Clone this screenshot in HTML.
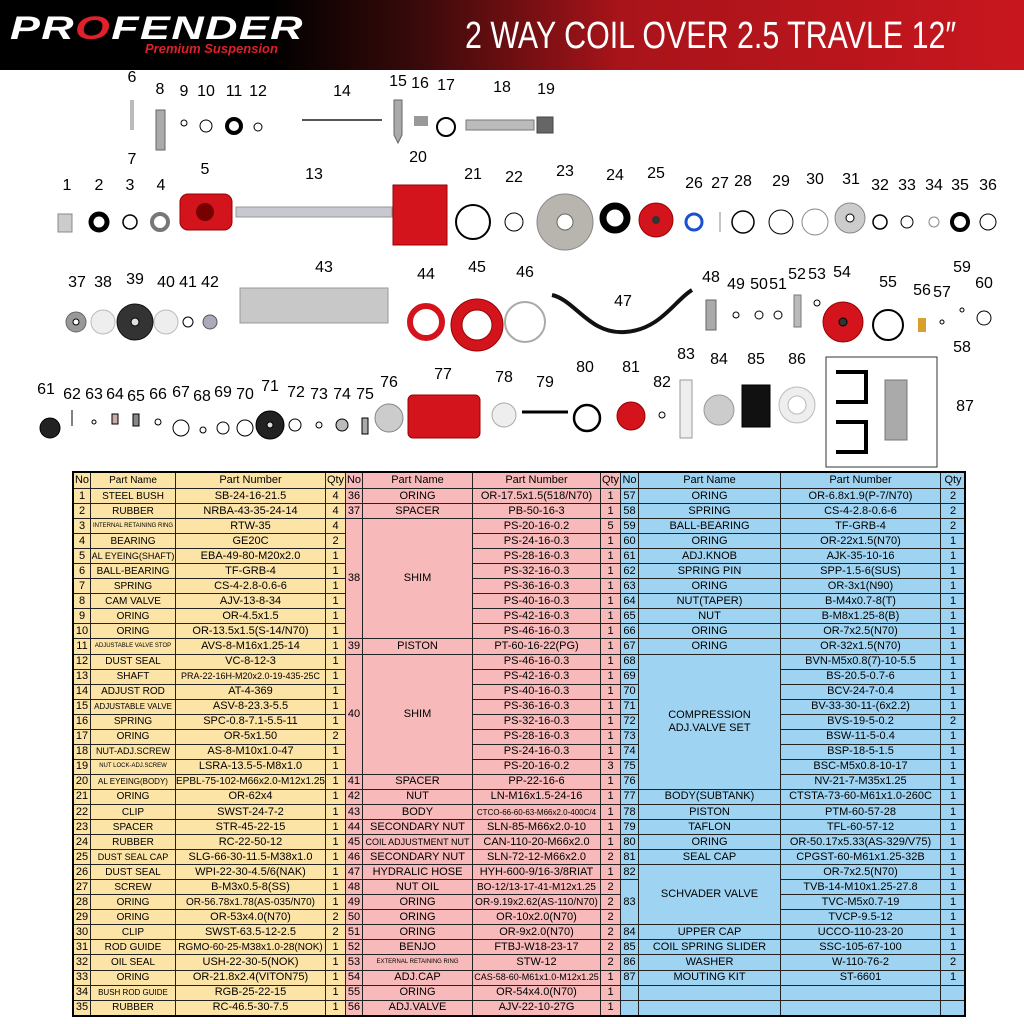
<!DOCTYPE html>
<html><head><meta charset="utf-8"><style>
*{margin:0;padding:0;box-sizing:border-box}
body{width:1024px;height:1024px;background:#fff;position:relative;overflow:hidden;font-family:"Liberation Sans",sans-serif}
#hdr{position:absolute;left:0;top:0;width:1024px;height:70px;background:linear-gradient(90deg,#000 0,#000 270px,#3a0a0a 420px,#a8141a 620px,#c8161e 1024px)}
#hdr .logo{position:absolute;left:10px;top:10px;color:#fff;font-size:32px;font-weight:bold;font-style:italic;letter-spacing:1px;transform:scaleX(1.4);transform-origin:left}
#hdr .sub{position:absolute;left:145px;top:41px;color:#e0202a;font-size:13px;font-weight:bold;font-style:italic}
#hdr .title{position:absolute;left:465px;top:15px;color:#fff;font-size:38px;white-space:nowrap;transform:scaleX(0.8);transform-origin:left}
.lbl{position:absolute;font-size:16px;color:#000;transform:translate(-50%,-50%);white-space:nowrap;transform-origin:center}
table{position:absolute;border-collapse:collapse;table-layout:fixed;font-size:11px;top:472px}
td{border:1px solid #222;height:15.06px;line-height:13px;text-align:center;padding:0;overflow:hidden;white-space:nowrap}
tr.h td{height:16px;background:inherit}
.y{background:#fce3a6}.p{background:#f7b9b9}.b{background:#9fd3f2}
.y td:nth-child(2){font-size:10px}
.sm{font-size:6px!important}
#frame{position:absolute;left:72px;top:471px;width:894px;height:546px;border:2px solid #000;pointer-events:none}
</style></head><body>
<div id="hdr"><div class="logo">PR<span style="color:#e0202a">O</span>FENDER</div><div class="sub">Premium Suspension</div><div class="title">2 WAY COIL OVER 2.5 TRAVLE 12″</div></div>

<svg width="1024" height="470" style="position:absolute;left:0;top:0" xmlns="http://www.w3.org/2000/svg">
<g stroke="#000" fill="none">
<rect x="130" y="100" width="4" height="30" fill="#bbb" stroke="none"/>
<rect x="156" y="110" width="9" height="40" fill="#aaa" stroke="#666"/>
<circle cx="184" cy="123" r="3"/><circle cx="206" cy="126" r="6"/><circle cx="234" cy="126" r="7" stroke-width="4"/><circle cx="258" cy="127" r="4"/>
<line x1="302" y1="120" x2="382" y2="120" stroke="#555" stroke-width="2"/>
<path d="M394 100h8v35l-4 8-4-8z" fill="#aaa" stroke="#666"/>
<rect x="414" y="116" width="14" height="10" fill="#999" stroke="none"/>
<circle cx="446" cy="127" r="9" stroke-width="2"/>
<rect x="466" y="120" width="68" height="10" fill="#bbb" stroke="#777"/>
<rect x="537" y="117" width="16" height="16" fill="#666" stroke="#444"/>
<rect x="58" y="214" width="14" height="18" fill="#ccc" stroke="#888"/>
<circle cx="99" cy="222" r="8" stroke-width="5"/>
<circle cx="130" cy="222" r="7" stroke-width="1.5"/>
<circle cx="160" cy="222" r="8" stroke="#777" stroke-width="4"/>
<rect x="180" y="194" width="52" height="36" rx="8" fill="#d3141c" stroke="#900"/>
<circle cx="205" cy="212" r="9" fill="#700" stroke="none"/>
<rect x="236" y="207" width="156" height="10" fill="#c8c8d0" stroke="#999"/>
<rect x="393" y="185" width="54" height="60" fill="#d3141c" stroke="#900"/>
<circle cx="473" cy="222" r="17" stroke-width="2"/>
<circle cx="514" cy="222" r="9"/>
<circle cx="565" cy="222" r="28" fill="#b8b4ae" stroke="#888"/><circle cx="565" cy="222" r="8" fill="#fff" stroke="#666"/>
<circle cx="615" cy="218" r="12" stroke-width="7"/>
<circle cx="656" cy="220" r="17" fill="#d3141c" stroke="#900"/><circle cx="656" cy="220" r="4" fill="#333" stroke="none"/>
<circle cx="694" cy="222" r="8" stroke="#1a4fd0" stroke-width="3"/>
<line x1="720" y1="212" x2="720" y2="232" stroke="#888"/>
<circle cx="743" cy="222" r="11" stroke-width="1.5"/><circle cx="781" cy="222" r="12"/><circle cx="815" cy="222" r="13" stroke="#888"/>
<circle cx="850" cy="218" r="15" fill="#ccc" stroke="#888"/><circle cx="850" cy="218" r="4" fill="#fff"/>
<circle cx="880" cy="222" r="7" stroke-width="1.5"/><circle cx="907" cy="222" r="6"/><circle cx="934" cy="222" r="5" stroke="#888"/><circle cx="960" cy="222" r="8" stroke-width="4"/><circle cx="988" cy="222" r="8"/>
<circle cx="76" cy="322" r="10" fill="#999" stroke="#666"/><circle cx="76" cy="322" r="3" fill="#fff"/>
<circle cx="103" cy="322" r="12" fill="#eee" stroke="#bbb"/>
<circle cx="135" cy="322" r="18" fill="#333" stroke="#111"/><circle cx="135" cy="322" r="4" fill="#ddd"/>
<circle cx="166" cy="322" r="12" fill="#eee" stroke="#bbb"/>
<circle cx="188" cy="322" r="5"/><circle cx="210" cy="322" r="7" fill="#aab" stroke="#555"/>
<rect x="240" y="288" width="148" height="35" fill="#c8c8c8" stroke="#999"/>
<circle cx="426" cy="322" r="16" stroke="#d3141c" stroke-width="6"/>
<circle cx="477" cy="325" r="26" fill="#d3141c" stroke="#900"/><circle cx="477" cy="325" r="15" fill="#fff" stroke="#900"/>
<circle cx="525" cy="322" r="20" stroke="#aaa" stroke-width="2"/>
<path d="M552 295 C575 300 590 335 625 332 C660 330 675 300 692 290" stroke="#111" stroke-width="4"/>
<rect x="706" y="300" width="10" height="30" fill="#aaa" stroke="#666"/>
<circle cx="736" cy="315" r="3"/><circle cx="759" cy="315" r="4"/><circle cx="778" cy="315" r="4"/>
<rect x="794" y="295" width="7" height="32" fill="#bbb" stroke="#777"/><circle cx="817" cy="303" r="3"/>
<circle cx="843" cy="322" r="20" fill="#d3141c" stroke="#900"/><circle cx="843" cy="322" r="4" fill="#333"/>
<circle cx="888" cy="325" r="15" stroke-width="2"/>
<rect x="918" y="318" width="8" height="14" fill="#d9a030" stroke="none"/>
<circle cx="942" cy="322" r="2"/><circle cx="962" cy="310" r="2"/><circle cx="984" cy="318" r="7"/>
<circle cx="50" cy="428" r="10" fill="#222"/>
<line x1="72" y1="410" x2="72" y2="426"/><circle cx="94" cy="422" r="2"/><rect x="112" y="414" width="6" height="10" fill="#caa"/><rect x="133" y="414" width="6" height="12" fill="#888"/><circle cx="158" cy="422" r="3"/>
<circle cx="181" cy="428" r="8"/><circle cx="203" cy="430" r="3"/><circle cx="223" cy="428" r="6"/><circle cx="245" cy="428" r="8"/>
<circle cx="270" cy="425" r="14" fill="#222"/><circle cx="270" cy="425" r="3" fill="#ddd"/>
<circle cx="295" cy="425" r="6"/><circle cx="319" cy="425" r="3"/><circle cx="342" cy="425" r="6" fill="#bbb"/><rect x="362" y="418" width="6" height="16" fill="#aaa"/>
<circle cx="389" cy="418" r="14" fill="#ccc" stroke="#888"/>
<rect x="408" y="395" width="72" height="43" rx="5" fill="#d3141c" stroke="#900"/>
<circle cx="504" cy="415" r="12" fill="#eee" stroke="#aaa"/>
<line x1="522" y1="412" x2="568" y2="412" stroke-width="3"/>
<circle cx="587" cy="418" r="13" stroke-width="2.5"/>
<circle cx="631" cy="416" r="14" fill="#d3141c" stroke="#900"/>
<circle cx="662" cy="415" r="3"/>
<rect x="680" y="380" width="12" height="58" fill="#eee" stroke="#999"/>
<circle cx="719" cy="410" r="15" fill="#ccc" stroke="#999"/>
<rect x="742" y="385" width="28" height="42" fill="#111"/>
<circle cx="797" cy="405" r="18" fill="#eee" stroke="#bbb"/><circle cx="797" cy="405" r="9" fill="#fff" stroke="#bbb"/>
<rect x="826" y="357" width="111" height="110" stroke="#333"/>
<path d="M836 372h30v30h-30" stroke-width="4"/><path d="M836 422h30v30h-30" stroke-width="4"/>
<rect x="885" y="380" width="22" height="60" fill="#aaa" stroke="#777"/>
</g>
</svg>
<div class="lbl" style="left:132px;top:78px">6</div><div class="lbl" style="left:132px;top:160px">7</div><div class="lbl" style="left:160px;top:90px">8</div><div class="lbl" style="left:184px;top:92px">9</div><div class="lbl" style="left:206px;top:92px">10</div><div class="lbl" style="left:234px;top:92px">11</div><div class="lbl" style="left:258px;top:92px">12</div><div class="lbl" style="left:342px;top:92px">14</div><div class="lbl" style="left:398px;top:82px">15</div><div class="lbl" style="left:420px;top:84px">16</div><div class="lbl" style="left:446px;top:86px">17</div><div class="lbl" style="left:502px;top:88px">18</div><div class="lbl" style="left:546px;top:90px">19</div>
<div class="lbl" style="left:67px;top:186px">1</div><div class="lbl" style="left:99px;top:186px">2</div><div class="lbl" style="left:130px;top:186px">3</div><div class="lbl" style="left:161px;top:186px">4</div><div class="lbl" style="left:205px;top:170px">5</div><div class="lbl" style="left:314px;top:175px">13</div><div class="lbl" style="left:418px;top:158px">20</div><div class="lbl" style="left:473px;top:175px">21</div><div class="lbl" style="left:514px;top:178px">22</div><div class="lbl" style="left:565px;top:172px">23</div><div class="lbl" style="left:615px;top:176px">24</div><div class="lbl" style="left:656px;top:174px">25</div><div class="lbl" style="left:694px;top:184px">26</div><div class="lbl" style="left:720px;top:184px">27</div><div class="lbl" style="left:743px;top:182px">28</div><div class="lbl" style="left:781px;top:182px">29</div><div class="lbl" style="left:815px;top:180px">30</div><div class="lbl" style="left:851px;top:180px">31</div><div class="lbl" style="left:880px;top:186px">32</div><div class="lbl" style="left:907px;top:186px">33</div><div class="lbl" style="left:934px;top:186px">34</div><div class="lbl" style="left:960px;top:186px">35</div><div class="lbl" style="left:988px;top:186px">36</div>
<div class="lbl" style="left:77px;top:283px">37</div><div class="lbl" style="left:103px;top:283px">38</div><div class="lbl" style="left:135px;top:280px">39</div><div class="lbl" style="left:166px;top:283px">40</div><div class="lbl" style="left:188px;top:283px">41</div><div class="lbl" style="left:210px;top:283px">42</div><div class="lbl" style="left:324px;top:268px">43</div><div class="lbl" style="left:426px;top:275px">44</div><div class="lbl" style="left:477px;top:268px">45</div><div class="lbl" style="left:525px;top:273px">46</div><div class="lbl" style="left:623px;top:302px">47</div><div class="lbl" style="left:711px;top:278px">48</div><div class="lbl" style="left:736px;top:285px">49</div><div class="lbl" style="left:759px;top:285px">50</div><div class="lbl" style="left:778px;top:285px">51</div><div class="lbl" style="left:797px;top:275px">52</div><div class="lbl" style="left:817px;top:275px">53</div><div class="lbl" style="left:842px;top:273px">54</div><div class="lbl" style="left:888px;top:283px">55</div><div class="lbl" style="left:922px;top:291px">56</div><div class="lbl" style="left:942px;top:293px">57</div><div class="lbl" style="left:962px;top:268px">59</div><div class="lbl" style="left:984px;top:284px">60</div><div class="lbl" style="left:962px;top:348px">58</div>
<div class="lbl" style="left:46px;top:390px">61</div><div class="lbl" style="left:72px;top:395px">62</div><div class="lbl" style="left:94px;top:395px">63</div><div class="lbl" style="left:115px;top:395px">64</div><div class="lbl" style="left:136px;top:397px">65</div><div class="lbl" style="left:158px;top:395px">66</div><div class="lbl" style="left:181px;top:393px">67</div><div class="lbl" style="left:202px;top:397px">68</div><div class="lbl" style="left:223px;top:393px">69</div><div class="lbl" style="left:245px;top:395px">70</div><div class="lbl" style="left:270px;top:387px">71</div><div class="lbl" style="left:296px;top:393px">72</div><div class="lbl" style="left:319px;top:395px">73</div><div class="lbl" style="left:342px;top:395px">74</div><div class="lbl" style="left:365px;top:395px">75</div><div class="lbl" style="left:389px;top:383px">76</div><div class="lbl" style="left:443px;top:375px">77</div><div class="lbl" style="left:504px;top:378px">78</div><div class="lbl" style="left:545px;top:383px">79</div><div class="lbl" style="left:585px;top:368px">80</div><div class="lbl" style="left:631px;top:368px">81</div><div class="lbl" style="left:662px;top:383px">82</div><div class="lbl" style="left:686px;top:355px">83</div><div class="lbl" style="left:719px;top:360px">84</div><div class="lbl" style="left:756px;top:360px">85</div><div class="lbl" style="left:797px;top:360px">86</div><div class="lbl" style="left:965px;top:407px">87</div>

<table class="y" style="left:73px;width:272px">
<colgroup><col style="width:17px"><col style="width:85px"><col style="width:150px"><col style="width:20px"></colgroup>
<tr class="h"><td>No</td><td>Part Name</td><td>Part Number</td><td>Qty</td></tr>
<tr><td>1</td><td>STEEL BUSH</td><td>SB-24-16-21.5</td><td>4</td></tr>
<tr><td>2</td><td>RUBBER</td><td>NRBA-43-35-24-14</td><td>4</td></tr>
<tr><td>3</td><td class="sm">INTERNAL RETAINING RING</td><td>RTW-35</td><td>4</td></tr>
<tr><td>4</td><td>BEARING</td><td>GE20C</td><td>2</td></tr>
<tr><td>5</td><td style="font-size:9px">AL EYEING(SHAFT)</td><td>EBA-49-80-M20x2.0</td><td>1</td></tr>
<tr><td>6</td><td>BALL-BEARING</td><td>TF-GRB-4</td><td>1</td></tr>
<tr><td>7</td><td>SPRING</td><td>CS-4-2.8-0.6-6</td><td>1</td></tr>
<tr><td>8</td><td>CAM VALVE</td><td>AJV-13-8-34</td><td>1</td></tr>
<tr><td>9</td><td>ORING</td><td>OR-4.5x1.5</td><td>1</td></tr>
<tr><td>10</td><td>ORING</td><td>OR-13.5x1.5(S-14/N70)</td><td>1</td></tr>
<tr><td>11</td><td class="sm">ADJUSTABLE VALVE STOP</td><td>AVS-8-M16x1.25-14</td><td>1</td></tr>
<tr><td>12</td><td>DUST SEAL</td><td>VC-8-12-3</td><td>1</td></tr>
<tr><td>13</td><td>SHAFT</td><td style="font-size:9px">PRA-22-16H-M20x2.0-19-435-25C</td><td>1</td></tr>
<tr><td>14</td><td>ADJUST ROD</td><td>AT-4-369</td><td>1</td></tr>
<tr><td>15</td><td style="font-size:8px">ADJUSTABLE VALVE</td><td>ASV-8-23.3-5.5</td><td>1</td></tr>
<tr><td>16</td><td>SPRING</td><td>SPC-0.8-7.1-5.5-11</td><td>1</td></tr>
<tr><td>17</td><td>ORING</td><td>OR-5x1.50</td><td>2</td></tr>
<tr><td>18</td><td style="font-size:9px">NUT-ADJ.SCREW</td><td>AS-8-M10x1.0-47</td><td>1</td></tr>
<tr><td>19</td><td class="sm">NUT LOCK-ADJ.SCREW</td><td>LSRA-13.5-5-M8x1.0</td><td>1</td></tr>
<tr><td>20</td><td style="font-size:8px">AL EYEING(BODY)</td><td style="font-size:10px">EPBL-75-102-M66x2.0-M12x1.25</td><td>1</td></tr>
<tr><td>21</td><td>ORING</td><td>OR-62x4</td><td>1</td></tr>
<tr><td>22</td><td>CLIP</td><td>SWST-24-7-2</td><td>1</td></tr>
<tr><td>23</td><td>SPACER</td><td>STR-45-22-15</td><td>1</td></tr>
<tr><td>24</td><td>RUBBER</td><td>RC-22-50-12</td><td>1</td></tr>
<tr><td>25</td><td style="font-size:9px">DUST SEAL CAP</td><td>SLG-66-30-11.5-M38x1.0</td><td>1</td></tr>
<tr><td>26</td><td>DUST SEAL</td><td>WPI-22-30-4.5/6(NAK)</td><td>1</td></tr>
<tr><td>27</td><td>SCREW</td><td>B-M3x0.5-8(SS)</td><td>1</td></tr>
<tr><td>28</td><td>ORING</td><td style="font-size:10px">OR-56.78x1.78(AS-035/N70)</td><td>1</td></tr>
<tr><td>29</td><td>ORING</td><td>OR-53x4.0(N70)</td><td>2</td></tr>
<tr><td>30</td><td>CLIP</td><td>SWST-63.5-12-2.5</td><td>2</td></tr>
<tr><td>31</td><td>ROD GUIDE</td><td style="font-size:10px">RGMO-60-25-M38x1.0-28(NOK)</td><td>1</td></tr>
<tr><td>32</td><td>OIL SEAL</td><td>USH-22-30-5(NOK)</td><td>1</td></tr>
<tr><td>33</td><td>ORING</td><td>OR-21.8x2.4(VITON75)</td><td>1</td></tr>
<tr><td>34</td><td style="font-size:8px">BUSH ROD GUIDE</td><td>RGB-25-22-15</td><td>1</td></tr>
<tr><td>35</td><td>RUBBER</td><td>RC-46.5-30-7.5</td><td>1</td></tr>
</table>

<table class="p" style="left:345px;width:275px">
<colgroup><col style="width:17px"><col style="width:110px"><col style="width:128px"><col style="width:20px"></colgroup>
<tr class="h"><td>No</td><td>Part Name</td><td>Part Number</td><td>Qty</td></tr>
<tr><td>36</td><td>ORING</td><td>OR-17.5x1.5(518/N70)</td><td>1</td></tr>
<tr><td>37</td><td>SPACER</td><td>PB-50-16-3</td><td>1</td></tr>
<tr><td rowspan="8">38</td><td rowspan="8">SHIM</td><td>PS-20-16-0.2</td><td>5</td></tr>
<tr><td>PS-24-16-0.3</td><td>1</td></tr><tr><td>PS-28-16-0.3</td><td>1</td></tr><tr><td>PS-32-16-0.3</td><td>1</td></tr><tr><td>PS-36-16-0.3</td><td>1</td></tr><tr><td>PS-40-16-0.3</td><td>1</td></tr><tr><td>PS-42-16-0.3</td><td>1</td></tr><tr><td>PS-46-16-0.3</td><td>1</td></tr>
<tr><td>39</td><td>PISTON</td><td>PT-60-16-22(PG)</td><td>1</td></tr>
<tr><td rowspan="8">40</td><td rowspan="8">SHIM</td><td>PS-46-16-0.3</td><td>1</td></tr>
<tr><td>PS-42-16-0.3</td><td>1</td></tr><tr><td>PS-40-16-0.3</td><td>1</td></tr><tr><td>PS-36-16-0.3</td><td>1</td></tr><tr><td>PS-32-16-0.3</td><td>1</td></tr><tr><td>PS-28-16-0.3</td><td>1</td></tr><tr><td>PS-24-16-0.3</td><td>1</td></tr><tr><td>PS-20-16-0.2</td><td>3</td></tr>
<tr><td>41</td><td>SPACER</td><td>PP-22-16-6</td><td>1</td></tr>
<tr><td>42</td><td>NUT</td><td>LN-M16x1.5-24-16</td><td>1</td></tr>
<tr><td>43</td><td>BODY</td><td style="font-size:8px">CTCO-66-60-63-M66x2.0-400C/4</td><td>1</td></tr>
<tr><td>44</td><td>SECONDARY NUT</td><td>SLN-85-M66x2.0-10</td><td>1</td></tr>
<tr><td>45</td><td style="font-size:9px">COIL ADJUSTMENT NUT</td><td>CAN-110-20-M66x2.0</td><td>1</td></tr>
<tr><td>46</td><td>SECONDARY NUT</td><td>SLN-72-12-M66x2.0</td><td>2</td></tr>
<tr><td>47</td><td>HYDRALIC HOSE</td><td>HYH-600-9/16-3/8RIAT</td><td>1</td></tr>
<tr><td>48</td><td>NUT OIL</td><td style="font-size:10px">BO-12/13-17-41-M12x1.25</td><td>2</td></tr>
<tr><td>49</td><td>ORING</td><td style="font-size:10px">OR-9.19x2.62(AS-110/N70)</td><td>2</td></tr>
<tr><td>50</td><td>ORING</td><td>OR-10x2.0(N70)</td><td>2</td></tr>
<tr><td>51</td><td>ORING</td><td>OR-9x2.0(N70)</td><td>2</td></tr>
<tr><td>52</td><td>BENJO</td><td>FTBJ-W18-23-17</td><td>2</td></tr>
<tr><td>53</td><td class="sm">EXTERNAL RETAINING RING</td><td>STW-12</td><td>2</td></tr>
<tr><td>54</td><td>ADJ.CAP</td><td style="font-size:9px">CAS-58-60-M61x1.0-M12x1.25</td><td>1</td></tr>
<tr><td>55</td><td>ORING</td><td>OR-54x4.0(N70)</td><td>1</td></tr>
<tr><td>56</td><td>ADJ.VALVE</td><td>AJV-22-10-27G</td><td>1</td></tr>
</table>

<table class="b" style="left:620px;width:345px">
<colgroup><col style="width:18px"><col style="width:142px"><col style="width:160px"><col style="width:25px"></colgroup>
<tr class="h"><td>No</td><td>Part Name</td><td>Part Number</td><td>Qty</td></tr>
<tr><td>57</td><td>ORING</td><td>OR-6.8x1.9(P-7/N70)</td><td>2</td></tr>
<tr><td>58</td><td>SPRING</td><td>CS-4-2.8-0.6-6</td><td>2</td></tr>
<tr><td>59</td><td>BALL-BEARING</td><td>TF-GRB-4</td><td>2</td></tr>
<tr><td>60</td><td>ORING</td><td>OR-22x1.5(N70)</td><td>1</td></tr>
<tr><td>61</td><td>ADJ.KNOB</td><td>AJK-35-10-16</td><td>1</td></tr>
<tr><td>62</td><td>SPRING PIN</td><td>SPP-1.5-6(SUS)</td><td>1</td></tr>
<tr><td>63</td><td>ORING</td><td>OR-3x1(N90)</td><td>1</td></tr>
<tr><td>64</td><td>NUT(TAPER)</td><td>B-M4x0.7-8(T)</td><td>1</td></tr>
<tr><td>65</td><td>NUT</td><td>B-M8x1.25-8(B)</td><td>1</td></tr>
<tr><td>66</td><td>ORING</td><td>OR-7x2.5(N70)</td><td>1</td></tr>
<tr><td>67</td><td>ORING</td><td>OR-32x1.5(N70)</td><td>1</td></tr>
<tr><td>68</td><td rowspan="9">COMPRESSION<br>ADJ.VALVE SET</td><td>BVN-M5x0.8(7)-10-5.5</td><td>1</td></tr>
<tr><td>69</td><td>BS-20.5-0.7-6</td><td>1</td></tr>
<tr><td>70</td><td>BCV-24-7-0.4</td><td>1</td></tr>
<tr><td>71</td><td>BV-33-30-11-(6x2.2)</td><td>1</td></tr>
<tr><td>72</td><td>BVS-19-5-0.2</td><td>2</td></tr>
<tr><td>73</td><td>BSW-11-5-0.4</td><td>1</td></tr>
<tr><td>74</td><td>BSP-18-5-1.5</td><td>1</td></tr>
<tr><td>75</td><td>BSC-M5x0.8-10-17</td><td>1</td></tr>
<tr><td>76</td><td>NV-21-7-M35x1.25</td><td>1</td></tr>
<tr><td>77</td><td>BODY(SUBTANK)</td><td>CTSTA-73-60-M61x1.0-260C</td><td>1</td></tr>
<tr><td>78</td><td>PISTON</td><td>PTM-60-57-28</td><td>1</td></tr>
<tr><td>79</td><td>TAFLON</td><td>TFL-60-57-12</td><td>1</td></tr>
<tr><td>80</td><td>ORING</td><td>OR-50.17x5.33(AS-329/V75)</td><td>1</td></tr>
<tr><td>81</td><td>SEAL CAP</td><td>CPGST-60-M61x1.25-32B</td><td>1</td></tr>
<tr><td>82</td><td rowspan="4">SCHVADER VALVE</td><td>OR-7x2.5(N70)</td><td>1</td></tr>
<tr><td rowspan="3">83</td><td>TVB-14-M10x1.25-27.8</td><td>1</td></tr>
<tr><td>TVC-M5x0.7-19</td><td>1</td></tr>
<tr><td>TVCP-9.5-12</td><td>1</td></tr>
<tr><td>84</td><td>UPPER CAP</td><td>UCCO-110-23-20</td><td>1</td></tr>
<tr><td>85</td><td>COIL SPRING SLIDER</td><td>SSC-105-67-100</td><td>1</td></tr>
<tr><td>86</td><td>WASHER</td><td>W-110-76-2</td><td>2</td></tr>
<tr><td>87</td><td>MOUTING KIT</td><td>ST-6601</td><td>1</td></tr>
<tr><td></td><td></td><td></td><td></td></tr>
<tr><td></td><td></td><td></td><td></td></tr>
</table>
<div id="frame"></div>
</body></html>
